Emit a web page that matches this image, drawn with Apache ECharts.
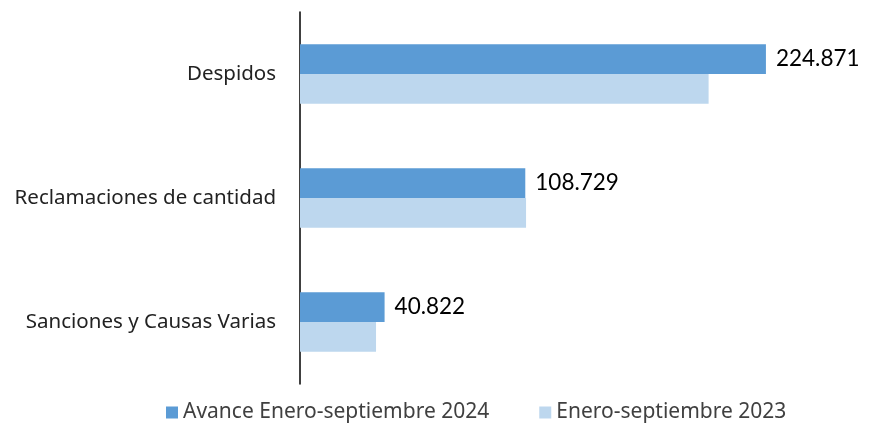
<!DOCTYPE html>
<html>
<head>
<meta charset="utf-8">
<script src="https://cdn.jsdelivr.net/npm/echarts@6/dist/echarts.min.js"></script>
<style>
  html, body { margin: 0; padding: 0; background: #fff; }
  #chart { width: 875px; height: 425px; }
</style>
</head>
<body>
<div id="chart"></div>
<script>
const categories = ['Despidos', 'Reclamaciones de cantidad', 'Sanciones y Causas Varias']
const seriesNames = ['Avance Enero-septiembre 2024', 'Enero-septiembre 2023']
const values2024 = [224871, 108729, 40822]
const values2023 = [197200, 109100, 36700]

const fontFamily = '"Noto Sans", "Open Sans", sans-serif'
const numberFont = 'Lato, "Open Sans", sans-serif'

// thousands with a dot, as in the source
let formatNumber = (v) => String(v).replace(/\B(?=(\d{3})+(?!\d))/g, '.')

const chart = echarts.init(document.getElementById('chart'))

chart.setOption({
  animation: false,
  textStyle: { fontFamily: fontFamily },
  grid: { left: 300, top: 12, bottom: 41, width: 518 },
  legend: {
    top: 402,
    left: 166,
    padding: 0,
    itemWidth: 12,
    itemHeight: 12,
    itemGap: 50,
    icon: 'rect',
    textStyle: { fontSize: 21, color: '#404040', fontFamily: fontFamily },
    data: seriesNames,
  },
  xAxis: {
    type: 'value',
    min: 0,
    max: 250000,
    show: false,
  },
  yAxis: {
    type: 'category',
    inverse: true,
    data: categories,
    axisLine: { show: true, lineStyle: { color: '#000', width: 1.5 } },
    axisTick: { show: false },
    axisLabel: { fontSize: 20.5, color: '#222', margin: 24, fontFamily: fontFamily },
  },
  series: [
    {
      name: seriesNames[0],
      type: 'bar',
      data: values2024,
      barGap: '0%',
      barCategoryGap: '52%',
      itemStyle: { color: '#5b9bd5' },
      label: {
        show: true,
        position: 'right',
        distance: 10,
        fontSize: 22.5,
        color: '#000',
        fontFamily: numberFont,
        formatter: (p) => formatNumber(p.value),
      },
    },
    {
      name: seriesNames[1],
      type: 'bar',
      data: values2023,
      barGap: '0%',
      barCategoryGap: '52%',
      itemStyle: { color: '#bdd7ee' },
    },
  ],
})
</script>
</body>
</html>
